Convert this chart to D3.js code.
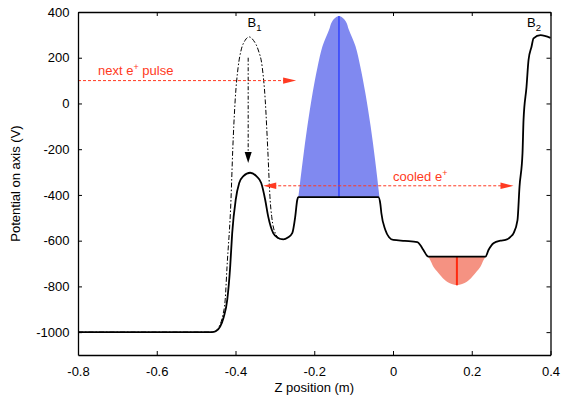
<!DOCTYPE html>
<html>
<head>
<meta charset="utf-8">
<script src="https://cdn.jsdelivr.net/npm/d3@7"></script>
<style>
  body { margin: 0; background: #fff; }
  svg { display: block; font-family: "Liberation Sans", Arial, Helvetica, sans-serif; }
  text { white-space: pre; }
</style>
</head>
<body>
<svg id="chart" width="562" height="397"></svg>
<script>
// Axial potential of the present trap configuration (solid line)
const zSolid = [-0.80, -0.46, -0.45, -0.439, -0.43, -0.421, -0.4135, -0.4084, -0.3995, -0.3906,
  -0.380, -0.3627, -0.347, -0.3347, -0.3245, -0.3169, -0.3042, -0.292, -0.2788, -0.267,
  -0.2559, -0.2483, -0.2432, -0.2406, -0.0372, -0.0321, -0.0296, -0.0194, -0.010, 0.0009,
  0.030, 0.0619, 0.0696, 0.0772, 0.0899, 0.2349, 0.2425, 0.2552, 0.273, 0.2857,
  0.2984, 0.306, 0.3162, 0.3213, 0.3289, 0.3315, 0.3391, 0.3442, 0.3518, 0.3569, 0.3747, 0.40];
const vSolid = [-1000, -1000, -996, -976, -935, -859, -714, -567, -422, -348,
  -318, -303, -318, -348, -422, -495, -567, -588, -594, -586,
  -567, -495, -422, -410, -410, -440, -479, -553, -585, -597,
  -601, -606, -620, -641, -670, -670, -641, -611, -600, -597,
  -583, -568, -510, -364, -218, -72, 73, 190, 248, 285, 299, 287];

// Axial potential with barrier B1 raised (dash-dot line)
const zRaised = [-0.80, -0.46, -0.45, -0.44, -0.432, -0.4262, -0.4215, -0.4115, -0.4070, -0.4008,
  -0.3932, -0.3856, -0.376, -0.3652, -0.354, -0.3423, -0.3322, -0.3245, -0.318, -0.312,
  -0.308, -0.299, -0.285, -0.2788];
const vRaised = [-1000, -1000, -994, -970, -925, -859, -714, -422, -203, 15,
  160, 234, 275, 291, 275, 234, 160, 15, -203, -422,
  -495, -567, -594, -594];

// Energy spread of the incoming positron pulse (blue) and of the cooled positrons (red)
const zPulse = [-0.2402, -0.2292, -0.2175, -0.2043, -0.1916, -0.1791, -0.1626, -0.1542, -0.1372,
  -0.1202, -0.1118, -0.0952, -0.0828, -0.0701, -0.0568, -0.0452, -0.0342];
const vPulse = [-410, -250, -100, 45, 160, 250, 321, 360, 382,
  360, 321, 250, 160, 45, -100, -250, -410];
const zCooled = [0.0898, 0.0975, 0.1026, 0.1122, 0.1229, 0.1372, 0.1623, 0.1875, 0.2017, 0.2124, 0.2220, 0.2271, 0.2348];
const vCooled = [-670, -695, -714, -735, -757, -780, -795, -780, -757, -735, -714, -695, -670];

// Axis ticks
const xTicks = [-0.8, -0.6, -0.4, -0.2, 0, 0.2, 0.4];
const xTickLabels = ["-0.8", "-0.6", "-0.4", "-0.2", "0", "0.2", "0.4"];
const yTicks = [400, 200, 0, -200, -400, -600, -800, -1000];
const yTickLabels = ["400", "200", "0", "-200", "-400", "-600", "-800", "-1000"];

// Annotation arrows, in data coordinates
const pulseArrow = { z0: -0.8, z1: -0.246, v: 100 };
const cooledArrow = { z0: -0.3296, z1: 0.306, v: -360 };
const dropArrow = { z: -0.3678, v0: 200, v1: -260 };

const W = 562, H = 397;
const m = { left: 78, right: 11.5, top: 12, bottom: 42 };
const svg = d3.select("#chart");
svg.append("rect").attr("width", W).attr("height", H).attr("fill", "#fff");

const x = d3.scaleLinear().domain([-0.8, 0.4]).range([m.left, W - m.right]);
const y = d3.scaleLinear().domain([-1100, 400]).range([H - m.bottom, m.top]);

const red = "#ff3a22";
const pts = (zs, vs) => zs.map((z, i) => [z, vs[i]]);
const line = d3.line().x(d => x(d[0])).y(d => y(d[1])).curve(d3.curveMonotoneX);
const smooth = d3.line().x(d => x(d[0])).y(d => y(d[1])).curve(d3.curveCatmullRom.alpha(0.5));

// filled energy distributions
const pulsePts = pts(zPulse, vPulse);
svg.append("path").attr("d", smooth(pulsePts) + "Z").attr("fill", "#8089f0");
const cooledPts = pts(zCooled, vCooled);
svg.append("path").attr("d", smooth(cooledPts) + "Z").attr("fill", "#f59282");

// centre lines of the distributions
const pulsePeak = pulsePts[d3.maxIndex(vPulse)];
svg.append("line")
  .attr("x1", x(pulsePeak[0])).attr("x2", x(pulsePeak[0]))
  .attr("y1", y(vPulse[0])).attr("y2", y(pulsePeak[1]))
  .attr("stroke", "#1f33ff").attr("stroke-width", 1.2);
const coolMin = cooledPts[d3.minIndex(vCooled)];
svg.append("line")
  .attr("x1", x(coolMin[0])).attr("x2", x(coolMin[0]))
  .attr("y1", y(vCooled[0])).attr("y2", y(coolMin[1]))
  .attr("stroke", "#ff2a10").attr("stroke-width", 2);

// potentials
svg.append("path").attr("d", line(pts(zRaised, vRaised)))
  .attr("fill", "none").attr("stroke", "#000").attr("stroke-width", 1)
  .attr("stroke-dasharray", "5,2,1.5,2");
svg.append("path").attr("d", line(pts(zSolid, vSolid)))
  .attr("fill", "none").attr("stroke", "#000").attr("stroke-width", 1.8)
  .attr("stroke-linejoin", "round");

// arrows
function head(tx, ty, dx, dy, len, half, color) {
  const bx = tx - dx * len, by = ty - dy * len;
  const px = -dy * half, py = dx * half;
  svg.append("path")
    .attr("d", `M${tx},${ty}L${bx + px},${by + py}L${bx - px},${by - py}Z`)
    .attr("fill", color);
}
{
  const yy = y(pulseArrow.v), xa = x(pulseArrow.z0), xb = x(pulseArrow.z1);
  svg.append("line").attr("x1", xa).attr("x2", xb - 10).attr("y1", yy).attr("y2", yy)
    .attr("stroke", red).attr("stroke-width", 1).attr("stroke-dasharray", "3,2");
  head(xb, yy, 1, 0, 13, 3.2, red);
}
{
  const yy = y(cooledArrow.v), xa = x(cooledArrow.z0), xb = x(cooledArrow.z1);
  svg.append("line").attr("x1", xa + 10).attr("x2", xb - 10).attr("y1", yy).attr("y2", yy)
    .attr("stroke", red).attr("stroke-width", 1).attr("stroke-dasharray", "3,2");
  head(xa, yy, -1, 0, 13, 3.2, red);
  head(xb, yy, 1, 0, 13, 3.2, red);
}
{
  const xx = x(dropArrow.z), ya = y(dropArrow.v0), yb = y(dropArrow.v1);
  svg.append("line").attr("x1", xx).attr("x2", xx).attr("y1", ya).attr("y2", yb - 9)
    .attr("stroke", "#000").attr("stroke-width", 1).attr("stroke-dasharray", "4,2,1.5,2");
  head(xx, yb, 0, 1, 11, 3.5, "#000");
}

// axes: ticks point inward on all four sides
const fs = 13;
const gx = svg.append("g").attr("transform", `translate(0,${H - m.bottom})`)
  .call(d3.axisBottom(x).tickValues(xTicks).tickSizeInner(-4).tickSizeOuter(0).tickPadding(11.5)
    .tickFormat((d, i) => xTickLabels[i]));
const gxt = svg.append("g").attr("transform", `translate(0,${m.top})`)
  .call(d3.axisTop(x).tickValues(xTicks).tickSizeInner(-4).tickSizeOuter(0).tickFormat(""));
const gy = svg.append("g").attr("transform", `translate(${m.left},0)`)
  .call(d3.axisLeft(y).tickValues(yTicks).tickSizeInner(-4).tickSizeOuter(0).tickPadding(8.5)
    .tickFormat((d, i) => yTickLabels[i]));
const gyr = svg.append("g").attr("transform", `translate(${W - m.right},0)`)
  .call(d3.axisRight(y).tickValues(yTicks).tickSizeInner(-4).tickSizeOuter(0).tickFormat(""));
[gx, gxt, gy, gyr].forEach(g => {
  g.selectAll("path.domain").attr("stroke", "#000").attr("stroke-width", 1.3);
  g.selectAll(".tick line").attr("stroke", "#000").attr("stroke-width", 1);
  g.selectAll("text").attr("font-size", fs).attr("fill", "#000")
    .attr("font-family", "'Liberation Sans', Arial, Helvetica, sans-serif");
});

// axis titles
svg.append("text").attr("x", (x(-0.8) + x(0.4)) / 2).attr("y", 392)
  .attr("text-anchor", "middle").attr("font-size", fs).text("Z position (m)");
svg.append("text").attr("transform", `translate(20,${(y(400) + y(-1100)) / 2}) rotate(-90)`)
  .attr("text-anchor", "middle").attr("font-size", fs).text("Potential on axis (V)");

// labels
function label(tx, ty, parts, color) {
  const t = svg.append("text").attr("x", tx).attr("y", ty).attr("font-size", fs).attr("fill", color);
  let shift = 0;
  parts.forEach(p => {
    const s = p.dy || 0;
    t.append("tspan").attr("dy", s - shift).attr("font-size", p.size || fs).text(p.t);
    shift = s;
  });
}
label(98, 75, [{ t: "next e" }, { t: "+", dy: -5, size: 9 }, { t: " pulse" }], red);
label(393, 181, [{ t: "cooled e" }, { t: "+", dy: -5, size: 9 }], red);
label(247.5, 27, [{ t: "B" }, { t: "1", dy: 3.5, size: 9.5 }], "#000");
label(527, 27, [{ t: "B" }, { t: "2", dy: 3.5, size: 9.5 }], "#000");
</script>
</body>
</html>
